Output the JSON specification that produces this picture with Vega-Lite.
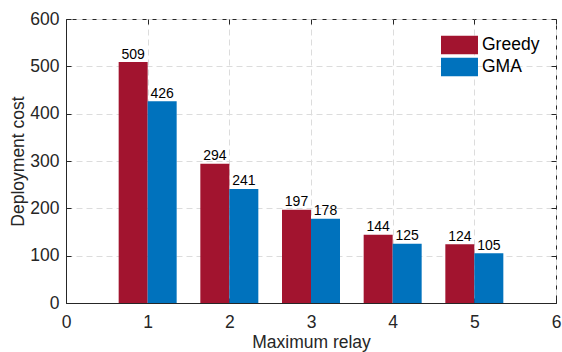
{
  "$schema": "https://vega.github.io/schema/vega-lite/v6.json",
  "autosize": "none",
  "padding": {"left": 66, "top": 19, "right": 6, "bottom": 49},
  "width": 490,
  "height": 284,
  "background": "white",
  "config": {
    "font": "Liberation Sans",
    "view": {"stroke": "#262626", "strokeWidth": 1},
    "axis": {
      "labelFont": "Liberation Sans",
      "titleFont": "Liberation Sans",
      "labelFontSize": 17.5,
      "titleFontSize": 17.5,
      "titleFontWeight": "normal",
      "labelColor": "#262626",
      "titleColor": "#262626",
      "domainColor": "#262626",
      "tickColor": "#262626",
      "labelFlush": false,
      "gridColor": "#dcdcdc",
      "gridDash": [6, 4],
      "gridWidth": 1
    }
  },
  "data": {
    "values": [
      {"relay": 1, "series": "Greedy", "cost": 509},
      {"relay": 1, "series": "GMA", "cost": 426},
      {"relay": 2, "series": "Greedy", "cost": 294},
      {"relay": 2, "series": "GMA", "cost": 241},
      {"relay": 3, "series": "Greedy", "cost": 197},
      {"relay": 3, "series": "GMA", "cost": 178},
      {"relay": 4, "series": "Greedy", "cost": 144},
      {"relay": 4, "series": "GMA", "cost": 125},
      {"relay": 5, "series": "Greedy", "cost": 124},
      {"relay": 5, "series": "GMA", "cost": 105}
    ]
  },
  "layer": [
    {
      "transform": [{"filter": "datum.series === 'Greedy'"}],
      "mark": {"type": "bar", "width": 29, "xOffset": -14.5},
      "encoding": {
        "x": {"field": "relay", "type": "quantitative", "scale": {"domain": [0, 6], "nice": false, "padding": 0},
          "axis": {"title": "Maximum relay", "values": [0,1,2,3,4,5,6], "tickSize": -5, "labelPadding": 15, "titlePadding": 3, "grid": true, "format": "d"}},
        "y": {"field": "cost", "type": "quantitative", "scale": {"domain": [0, 600], "nice": false},
          "axis": {"title": "Deployment cost", "values": [0,100,200,300,400,500,600], "tickSize": -5, "labelPadding": 12, "titlePadding": 2, "grid": true}},
        "color": {"field": "series", "type": "nominal",
          "scale": {"domain": ["Greedy", "GMA"], "range": ["#A2142F", "#0072BD"]},
          "legend": {"title": null, "orient": "none", "legendX": 384, "legendY": 16.5, "symbolType": "M-2,-1H2V1H-2Z", "symbolSize": 342, "symbolStrokeWidth": 0, "symbolOpacity": 1, "labelFontSize": 17.5, "labelFont": "Liberation Sans", "labelColor": "#000000", "labelOffset": 13, "rowPadding": 3, "padding": 0}}
      }
    },
    {
      "transform": [{"filter": "datum.series === 'GMA'"}],
      "mark": {"type": "bar", "width": 29, "xOffset": 14.5},
      "encoding": {
        "x": {"field": "relay", "type": "quantitative", "axis": null},
        "y": {"field": "cost", "type": "quantitative", "axis": null},
        "color": {"field": "series", "type": "nominal"}
      }
    },
    {
      "transform": [{"filter": "datum.series === 'Greedy'"}],
      "mark": {"type": "text", "xOffset": -14.5, "dy": -3.5, "baseline": "alphabetic", "fontSize": 14, "font": "Liberation Sans", "color": "#000000"},
      "encoding": {
        "x": {"field": "relay", "type": "quantitative", "axis": {"orient": "top", "labels": false, "title": null, "tickSize": -5, "values": [0,1,2,3,4,5,6], "domain": false, "grid": false}},
        "y": {"field": "cost", "type": "quantitative", "axis": {"orient": "right", "labels": false, "title": null, "tickSize": -5, "values": [0,100,200,300,400,500,600], "domain": false, "grid": false}},
        "text": {"field": "cost", "type": "quantitative"}
      }
    },
    {
      "transform": [{"filter": "datum.series === 'GMA'"}],
      "mark": {"type": "text", "xOffset": 14.5, "dy": -3.5, "baseline": "alphabetic", "fontSize": 14, "font": "Liberation Sans", "color": "#000000"},
      "encoding": {
        "x": {"field": "relay", "type": "quantitative", "axis": null},
        "y": {"field": "cost", "type": "quantitative", "axis": null},
        "text": {"field": "cost", "type": "quantitative"}
      }
    }
  ],
  "resolve": {"axis": {"x": "independent", "y": "independent"}}
}
